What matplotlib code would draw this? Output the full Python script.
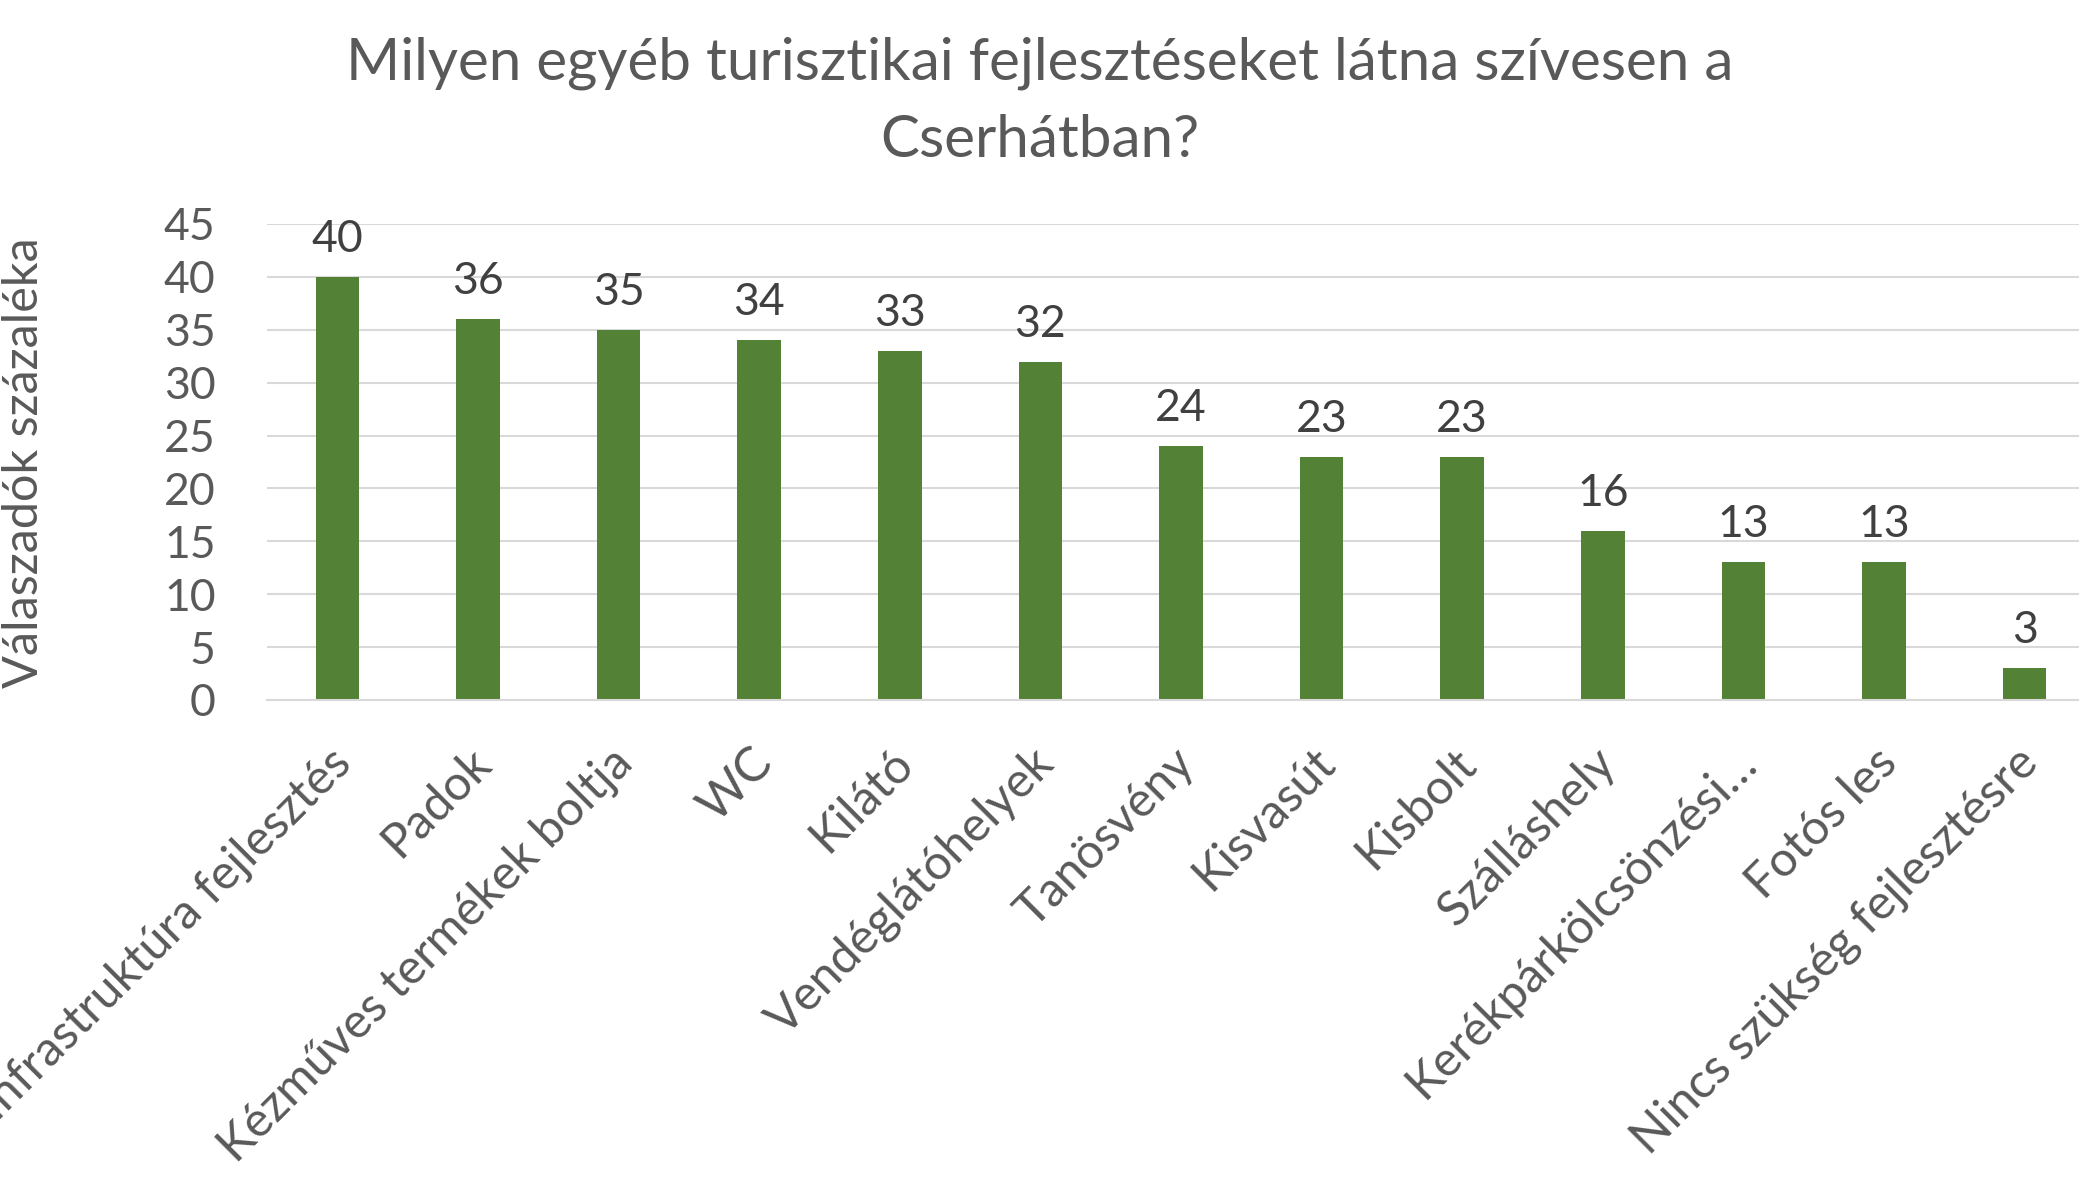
import matplotlib
matplotlib.use('Agg')
import matplotlib.pyplot as plt
import matplotlib.transforms as mtransforms
import numpy as np

categories = ["Infrastruktúra fejlesztés", "Padok", "Kézműves termékek boltja", "WC",
              "Kilátó", "Vendéglátóhelyek", "Tanösvény", "Kisvasút", "Kisbolt",
              "Szálláshely", "Kerékpárkölcsönzési…", "Fotós les",
              "Nincs szükség fejlesztésre"]
values = [40, 36, 35, 34, 33, 32, 24, 23, 23, 16, 13, 13, 3]
yticks = [0, 5, 10, 15, 20, 25, 30, 35, 40, 45]
title_lines = ["Milyen egyéb turisztikai fejlesztéseket látna szívesen a", "Cserhátban?"]
ylabel = "Válaszadók százaléka"

plt.rcParams['font.family'] = ['Lato', 'DejaVu Sans']

W, H = 2079, 1188
fig = plt.figure(figsize=(W / 100, H / 100), dpi=100)
fig.patch.set_facecolor('white')
ax = fig.add_axes([267 / W, 488 / H, (2095 - 267) / W, 476 / H])

x = np.arange(len(values))
ax.bar(x, values, width=0.31, color='#538135', zorder=3)
ax.set_xlim(-0.5, len(values) - 0.5)
ax.set_ylim(0, 45)
ax.set_yticks(yticks)
ax.set_yticklabels([str(t) for t in yticks], fontsize=32, color='#595959')
ax.tick_params(axis='y', length=0, pad=37)
ax.grid(axis='y', color='#D9D9D9', linewidth=1.5, zorder=0)
for s in ['left', 'right', 'top']:
    ax.spines[s].set_visible(False)
ax.spines['bottom'].set_color('#D9D9D9')
ax.spines['bottom'].set_linewidth(1.5)
ax.spines['bottom'].set_zorder(4)

ax.set_xticks(x)
ax.set_xticklabels(categories, fontsize=35, color='#595959', rotation=45,
                   ha='right', va='center', rotation_mode='anchor')
ax.tick_params(axis='x', length=0, pad=40)
shift = mtransforms.ScaledTranslation(6 / 100, 0, fig.dpi_scale_trans)
for lbl in ax.get_xticklabels():
    lbl.set_transform(lbl.get_transform() + shift)

for xi, v in zip(x, values):
    ax.annotate(str(v), (xi, v), xytext=(0, 18), textcoords='offset points',
                ha='center', va='baseline', fontsize=32, color='#404040')

fig.text(0.5, 1 - 80 / H, title_lines[0], ha='center', va='baseline', fontsize=42, color='#595959')
fig.text(0.5, 1 - 157 / H, title_lines[1], ha='center', va='baseline', fontsize=42, color='#595959')
fig.text(24 / W, 1 - 463 / H, ylabel, rotation=90, ha='center', va='center', fontsize=35, color='#595959')

fig.savefig('out.png', dpi=100, facecolor='white')
